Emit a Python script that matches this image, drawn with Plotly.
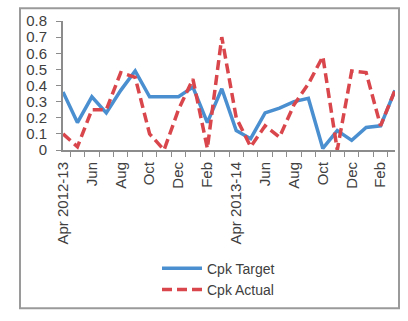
import plotly.graph_objects as go

# Month keys (two fiscal years, Apr..Mar) and the labels shown on the axis
months = [
    "2012-04", "2012-05", "2012-06", "2012-07", "2012-08", "2012-09",
    "2012-10", "2012-11", "2012-12", "2013-01", "2013-02", "2013-03",
    "2013-04", "2013-05", "2013-06", "2013-07", "2013-08", "2013-09",
    "2013-10", "2013-11", "2013-12", "2014-01", "2014-02", "2014-03",
]
tick_labels = [
    "Apr 2012-13", "", "Jun", "", "Aug", "", "Oct", "", "Dec", "", "Feb", "",
    "Apr 2013-14", "", "Jun", "", "Aug", "", "Oct", "", "Dec", "", "Feb", "",
]

cpk_target = [0.36, 0.17, 0.33, 0.23, 0.37, 0.49, 0.33, 0.33, 0.33, 0.39, 0.17, 0.38,
              0.12, 0.07, 0.23, 0.26, 0.30, 0.32, 0.01, 0.12, 0.06, 0.14, 0.15, 0.37]
cpk_actual = [0.10, 0.02, 0.25, 0.25, 0.48, 0.45, 0.10, 0.00, 0.25, 0.44, 0.01, 0.70,
              0.20, 0.02, 0.15, 0.08, 0.28, 0.41, 0.58, 0.00, 0.49, 0.48, 0.15, 0.37]

y_ticks = [0, 0.1, 0.2, 0.3, 0.4, 0.5, 0.6, 0.7, 0.8]

FONT = "Liberation Sans"
TEXT = "#404040"
AXIS = "#8c8c8c"

fig = go.Figure()
fig.add_trace(go.Scatter(
    x=months, y=cpk_target, name="Cpk Target", mode="lines",
    line=dict(color="#4a8fd0", width=3.5),
))
fig.add_trace(go.Scatter(
    x=months, y=cpk_actual, name="Cpk Actual", mode="lines",
    line=dict(color="#d9464b", width=3.5, dash="10px,5px"),
))

W, H = 408, 321
L, R, T, B = 63, 13, 18, 171
pw, ph = W - L - R, H - T - B

def px_x(x):
    return (x - L) / pw

def px_y(y):
    return (H - B - y) / ph

# outer chart frame
fig.add_shape(type="rect", xref="paper", yref="paper",
              x0=px_x(20), x1=px_x(399), y0=px_y(312), y1=px_y(5),
              line=dict(color="#9a9a9a", width=2), fillcolor="rgba(0,0,0,0)",
              layer="below")

fig.update_layout(
    width=W, height=H,
    margin=dict(l=L, r=R, t=T, b=B),
    paper_bgcolor="white", plot_bgcolor="white",
    font=dict(family=FONT, size=15, color=TEXT),
    showlegend=True,
    legend=dict(
        x=px_x(157), y=px_y(255), xanchor="left", yanchor="top",
        bgcolor="rgba(0,0,0,0)", font=dict(family=FONT, size=14, color=TEXT),
        tracegroupgap=0, itemwidth=40,
    ),
    xaxis=dict(
        type="category", categoryorder="array", categoryarray=months,
        tickmode="array", tickvals=months, ticktext=tick_labels,
        tickson="boundaries", ticks="outside", ticklen=5, tickcolor=AXIS,
        tickangle=-90, showline=True, linecolor=AXIS, linewidth=2,
        showgrid=False, zeroline=False, ticklabelstandoff=4,
        tickfont=dict(family=FONT, size=15, color=TEXT),
    ),
    yaxis=dict(
        range=[0, 0.8], tickmode="array", tickvals=y_ticks,
        ticks="outside", ticklen=5, tickcolor=AXIS,
        showline=True, linecolor=AXIS, linewidth=2,
        showgrid=False, zeroline=False, ticklabelstandoff=6,
        tickfont=dict(family=FONT, size=15, color=TEXT),
    ),
)

fig.write_html("out.html")
